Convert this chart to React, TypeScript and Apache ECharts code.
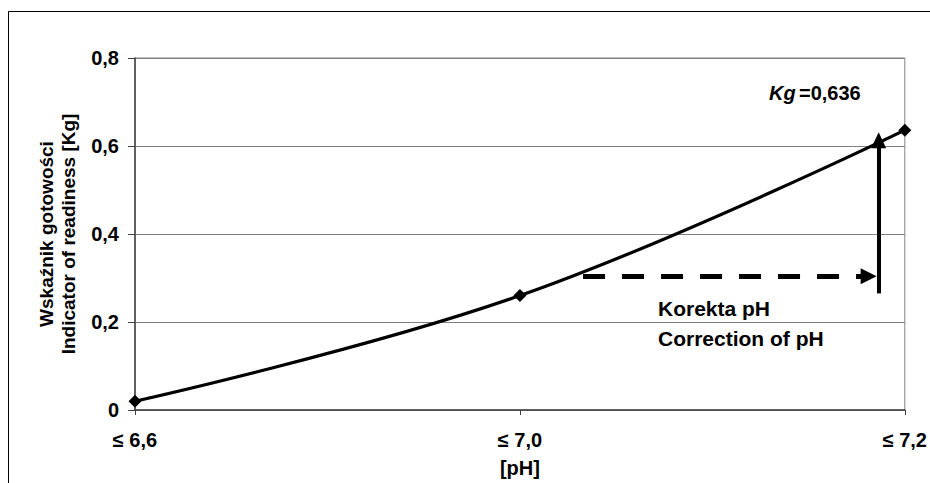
import React, { useEffect, useRef } from "react";
import * as echarts from "echarts";

// pH classes on the x axis and the readiness indicator Kg for each class
const categories = ["≤ 6,6", "≤ 7,0", "≤ 7,2"];
const readiness = [0.02, 0.26, 0.636];
const yTicks = [0, 0.2, 0.4, 0.6, 0.8];

// annotation arrows in data coordinates (x = class index, y = Kg)
const correctionArrow = [
  [1.164, 0.304],
  [1.906, 0.304],
];
const kgArrow = [
  [1.932, 0.265],
  [1.932, 0.613],
];

const FONT = "Arial, 'Liberation Sans', sans-serif";
const fmt = (v: number) => (v === 0 ? "0" : v.toFixed(1).replace(".", ","));

export default function App() {
  const ref = useRef<HTMLDivElement>(null);

  useEffect(() => {
    if (!ref.current) return;
    const chart = echarts.init(ref.current, null, { renderer: "svg" });
    const last = readiness.length - 1;
    const points = readiness.map((v, i) =>
      i === last
        ? {
            value: [i, v],
            label: {
              show: true,
              position: "top",
              offset: [-90, -16],
              formatter: () => `{i|Kg} {b|=${String(v).replace(".", ",")}}`,
              rich: {
                i: { fontStyle: "italic", fontWeight: "bold", fontSize: 20, color: "#000", fontFamily: FONT },
                b: { fontWeight: "bold", fontSize: 20, color: "#000", fontFamily: FONT },
              },
            },
          }
        : { value: [i, v] }
    );

    chart.setOption({
      animation: false,
      backgroundColor: "#fff",
      grid: {
        left: 135,
        right: 25,
        top: 58,
        bottom: 72,
        show: true,
        borderColor: "#808080",
        borderWidth: 1,
      },
      graphic: [
        {
          type: "rect",
          z: -10,
          shape: { x: 8.5, y: 11.5, width: 1000, height: 1000 },
          style: { fill: "none", stroke: "#000", lineWidth: 1 },
        },
        {
          type: "text",
          left: 658,
          top: 293,
          style: {
            text: "Korekta pH\nCorrection of pH",
            font: `bold 21px ${FONT}`,
            lineHeight: 30,
            fill: "#000",
          },
        },
      ],
      xAxis: {
        type: "value",
        min: 0,
        max: categories.length - 1,
        interval: 1,
        name: "[pH]",
        nameLocation: "middle",
        nameGap: 48,
        nameTextStyle: { fontFamily: FONT, fontWeight: "bold", fontSize: 20, color: "#000" },
        axisLine: { lineStyle: { color: "#404040", width: 1.5 } },
        axisTick: { show: true, length: 5, lineStyle: { color: "#404040" } },
        splitLine: { show: false },
        axisLabel: {
          formatter: (v: number) => categories[v] ?? "",
          margin: 20,
          fontFamily: FONT,
          fontWeight: "bold",
          fontSize: 20,
          color: "#000",
        },
      },
      yAxis: {
        type: "value",
        min: yTicks[0],
        max: yTicks[yTicks.length - 1],
        interval: 0.2,
        name: "Wskaźnik gotowości\nIndicator of readiness [Kg]",
        nameLocation: "middle",
        nameRotate: 90,
        nameGap: 56,
        nameTextStyle: {
          fontFamily: FONT,
          fontWeight: "bold",
          fontSize: 19,
          lineHeight: 22,
          color: "#000",
        },
        axisLine: { show: true, lineStyle: { color: "#404040", width: 1.5 } },
        axisTick: { show: true, length: 7, lineStyle: { color: "#404040" } },
        splitLine: { show: true, lineStyle: { color: "#808080", width: 1 } },
        axisLabel: {
          formatter: (v: number) => fmt(v),
          margin: 16,
          fontFamily: FONT,
          fontWeight: "bold",
          fontSize: 20,
          color: "#000",
        },
      },
      series: [
        {
          type: "line",
          data: points,
          smooth: 0.4,
          symbol: "diamond",
          symbolSize: 13,
          itemStyle: { color: "#000" },
          lineStyle: { color: "#000", width: 3.2 },
          markLine: {
            silent: true,
            animation: false,
            label: { show: false },
            data: [
              [
                { coord: correctionArrow[0], symbol: "none" },
                { coord: correctionArrow[1], symbol: "triangle", symbolSize: [16, 16] },
              ],
              [
                { coord: kgArrow[0], symbol: "none", lineStyle: { type: "solid", width: 4 } },
                { coord: kgArrow[1], symbol: "triangle", symbolSize: [15, 16] },
              ],
            ],
            lineStyle: { color: "#000", width: 5, type: [22, 17] },
            itemStyle: { color: "#000" },
          },
        },
      ],
    });

    return () => chart.dispose();
  }, []);

  return (
    <div
      ref={ref}
      style={{ position: "fixed", left: 0, top: 0, width: 930, height: 483 }}
    />
  );
}
